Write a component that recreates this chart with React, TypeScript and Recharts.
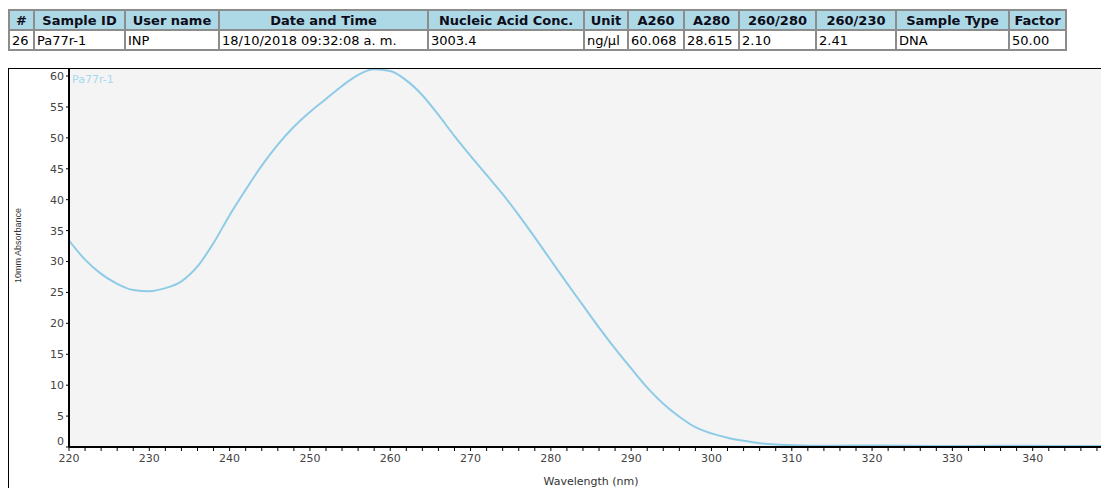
import React from "react";
import { LineChart, Line, XAxis, YAxis, CartesianGrid, Legend } from "recharts";

// ---------- data ----------
const tableHeaders = ["#", "Sample ID", "User name", "Date and Time", "Nucleic Acid Conc.", "Unit", "A260", "A280", "260/280", "260/230", "Sample Type", "Factor"];
const tableValues = ["26", "Pa77r-1", "INP", "18/10/2018 09:32:08 a. m.", "3003.4", "ng/µl", "60.068", "28.615", "2.10", "2.41", "DNA", "50.00"];

const seriesName = "Pa77r-1";
const wavelengths = [
  220, 222, 224, 226, 228, 230, 232, 234, 236, 238,
  240, 242, 244, 246, 248, 250, 252, 254, 256, 258,
  260, 262, 264, 266, 268, 270, 272, 274, 276, 278,
  280, 282, 284, 286, 288, 290, 292, 294, 296, 298,
  300, 302, 304, 306, 308, 310, 315, 320, 325, 330,
  335, 340, 345, 350,
];
const absorbance = [
  33.4, 30.3, 28.0, 26.4, 25.4, 25.2, 25.7, 26.8, 29.2, 33.0,
  37.5, 41.6, 45.5, 48.9, 51.8, 54.2, 56.3, 58.4, 60.2, 61.1,
  60.8, 59.3, 56.9, 53.7, 50.3, 47.1, 44.0, 40.9, 37.5, 33.9,
  30.2, 26.5, 22.9, 19.3, 15.9, 12.7, 9.6, 7.0, 4.9, 3.2,
  2.2, 1.5, 1.0, 0.6, 0.4, 0.3, 0.2, 0.25, 0.2, 0.15,
  0.2, 0.2, 0.15, 0.15,
];
const xTicks = [
  220, 222, 224, 226, 228, 230, 232, 234, 236, 238, 240, 242, 244, 246, 248,
  250, 252, 254, 256, 258, 260, 262, 264, 266, 268, 270, 272, 274, 276, 278,
  280, 282, 284, 286, 288, 290, 292, 294, 296, 298, 300, 302, 304, 306, 308,
  310, 312, 314, 316, 318, 320, 322, 324, 326, 328, 330, 332, 334, 336, 338,
  340, 342, 344, 346, 348,
];
const yTicks = [0, 5, 10, 15, 20, 25, 30, 35, 40, 45, 50, 55, 60];

// ---------- layout constants ----------
const colWidths = [25, 91, 94, 209, 156, 44, 56, 55, 77, 80, 113, 57];
const FONT = "'DejaVu Sans', Verdana, sans-serif";
const LINE_COLOR = "#8ecbe7";

const data = wavelengths.map((nm, i) => ({ nm, abs: absorbance[i] }));

const YTick = (props: any) => {
  const { x, y, payload } = props;
  const dy = payload.value === 0 ? -6 : 0;
  return (
    <text x={x} y={y + dy} dy="0.355em" textAnchor="end" fill="#444" fontSize={11} fontFamily={FONT}>
      {payload.value}
    </text>
  );
};

const YLabel = (props: any) => {
  const vb = props.viewBox || { x: 0, y: 0, width: 0, height: 0 };
  const cx = vb.x - 1;
  const cy = vb.y + vb.height / 2 - 12;
  return (
    <text x={cx} y={cy} transform={`rotate(-90 ${cx} ${cy})`} textAnchor="middle" dominantBaseline="central" fill="#333" fontSize={9} fontFamily="'Liberation Sans', Arial, sans-serif">
      10mm Absorbance
    </text>
  );
};

export default function App() {
  const cell: React.CSSProperties = {
    border: "2px solid #8c8c8c",
    padding: "0 2px",
    fontFamily: FONT,
    fontSize: 13,
    whiteSpace: "nowrap",
    overflow: "hidden",
    height: 18,
    lineHeight: "17px",
  };
  return (
    <div style={{ position: "relative", width: 1110, height: 480, overflow: "hidden" }}>
      <style>{"html{overflow:hidden;}"}</style>
      <table
        style={{
          position: "absolute",
          left: 0,
          top: 1,
          borderCollapse: "collapse",
          tableLayout: "fixed",
          width: colWidths.reduce((a, b) => a + b, 0),
        }}
      >
        <colgroup>
          {colWidths.map((w, i) => (
            <col key={i} style={{ width: w }} />
          ))}
        </colgroup>
        <tbody>
          <tr>
            {tableHeaders.map((h, i) => (
              <th key={i} style={{ ...cell, background: "#add8e6", fontWeight: "bold", textAlign: "center", color: "#0d0d1a" }}>
                {h}
              </th>
            ))}
          </tr>
          <tr>
            {tableValues.map((v, i) => (
              <td key={i} style={{ ...cell, textAlign: "left", color: "#000", background: "#fff" }}>
                {v}
              </td>
            ))}
          </tr>
        </tbody>
      </table>

      <div style={{ position: "absolute", left: 0, top: 60, width: 1105, height: 420 }}>
        <LineChart width={1105} height={420} data={data} margin={{ top: 0, right: 0, left: 11, bottom: 0 }}>
          <CartesianGrid fill="#f4f4f4" horizontal={false} vertical={false} />
          <XAxis
            dataKey="nm"
            type="number"
            domain={[220, 350]}
            allowDataOverflow
            ticks={xTicks}
            interval={0}
            height={41}
            axisLine={{ stroke: "#000", strokeWidth: 2 }}
            tickLine={{ stroke: "#000" }}
            tickSize={4}
            tickMargin={3}
            tick={{ fill: "#444", fontSize: 11, fontFamily: FONT }}
            tickFormatter={(v: number) => (v % 10 === 0 ? String(v) : "")}
            label={{ value: "Wavelength (nm)", position: "insideBottom", offset: 3, fill: "#333", fontSize: 11, fontFamily: FONT }}
          />
          <YAxis
            type="number"
            domain={[0, 61.3]}
            allowDataOverflow
            ticks={yTicks}
            interval={0}
            width={50}
            axisLine={{ stroke: "#000", strokeWidth: 2 }}
            tickLine={{ stroke: "#000" }}
            tickSize={3}
            tickMargin={2}
            tick={<YTick />}
            label={<YLabel />}
          />
          <Legend
            layout="vertical"
            align="center"
            verticalAlign="middle"
            wrapperStyle={{ left: 64, top: 1, width: "auto" }}
            content={() => (
              <span style={{ color: "#a6d8ef", fontSize: 11, fontFamily: FONT }}>{seriesName}</span>
            )}
          />
          <Line
            type="monotone"
            dataKey="abs"
            name={seriesName}
            stroke={LINE_COLOR}
            strokeWidth={2}
            dot={false}
            activeDot={false}
            isAnimationActive={false}
          />
        </LineChart>
      </div>
      <div
        style={{
          position: "absolute",
          left: 0,
          top: 60,
          width: 1110,
          height: 430,
          borderLeft: "1px solid #000",
          borderTop: "1px solid #000",
          pointerEvents: "none",
        }}
      />
    </div>
  );
}
